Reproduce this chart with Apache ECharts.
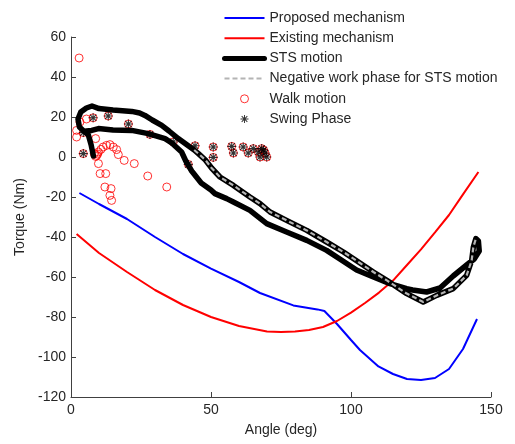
<!DOCTYPE html>
<html>
<head>
<meta charset="utf-8">
<script src="https://cdn.jsdelivr.net/npm/echarts@6/dist/echarts.min.js"></script>
<style>
html,body{margin:0;padding:0;background:#fff;}
#chart{width:515px;height:444px;}
</style>
</head>
<body>
<div id="chart"></div>
<script>
// ---- Data ----
const proposedAngle  = [3, 10, 20, 30, 40, 50, 60, 67.5, 79.4, 88, 90.5, 95, 100, 103.2, 109.8, 115, 120, 125, 130, 135, 140, 145];
const proposedTorque = [-18, -23.5, -31, -40, -48.5, -55.8, -62.5, -68, -74.2, -76.2, -77, -83.5, -91.5, -96.5, -104.7, -108.5, -111, -111.5, -110.5, -106, -96, -81];

const existingAngle  = [2, 10, 20, 30, 40, 50, 60, 70, 75, 80, 85, 90, 95, 100, 105, 110, 115, 120, 125, 130, 135, 140, 145.5];
const existingTorque = [-38.5, -48, -57.5, -66.5, -74, -80, -84.5, -87.2, -87.5, -87.3, -86.5, -85, -82, -77.8, -73, -67.8, -61.8, -54, -46.2, -37.7, -29, -18.7, -7.5];

const stsAngle  = [8, 7.2, 6.2, 4.5, 3, 2.5, 3.5, 5.5, 7.5, 10, 15, 21.7, 24.5, 26.4, 29, 32.4, 35, 38.3, 42, 44, 45.5, 48, 50.2, 53.2, 58, 63.9, 67.5, 71.1, 77, 84.2, 91.3, 97.3, 103.2, 108, 112.8, 119.9, 125.8, 130.6, 136.5, 141.3, 143.1, 143.7, 144.6, 145.5, 145.8, 144, 141.3, 136.5, 131.8, 127, 122, 119.9, 113.9, 108, 102, 96, 91.3, 84.2, 77, 69.9, 63.9, 58, 55.6, 51.4, 50, 46.5, 43.1, 41, 39.5, 36, 33.6, 27.6, 21.7, 15, 9.8, 7.4, 5.5];
const stsTorque = [0.5, 6, 11, 13, 15, 19, 22.5, 24.5, 25.5, 24.2, 23.5, 22.8, 22, 20.8, 18.5, 15.8, 13, 9.2, 5.5, 3.5, 1.7, -1.5, -5.5, -10, -14.2, -20, -23.3, -27.5, -31.7, -36.7, -42.5, -47.5, -53, -57.5, -61.7, -68.3, -72.5, -69.2, -65.8, -59.2, -51.7, -45, -40.8, -42, -47, -51, -54, -59.5, -65.5, -67.5, -66.5, -65.8, -63.3, -60, -56.5, -51, -46.7, -41.7, -37.5, -33.3, -26.7, -22.5, -20.8, -18.3, -16.5, -13, -7, -2, 2.5, 7, 9.2, 11.7, 13.3, 13.5, 14.2, 13.3, 13];

const negAngle  = [44, 45.5, 48, 50.2, 53.2, 58, 63.9, 67.5, 71.1, 77, 84.2, 91.3, 97.3, 103.2, 108, 112.8, 119.9, 125.8, 130.6, 136.5, 141.3, 143.1, 143.7, 144.6];
const negTorque = [3.5, 1.7, -1.5, -5.5, -10, -14.2, -20, -23.3, -27.5, -31.7, -36.7, -42.5, -47.5, -53, -57.5, -61.7, -68.3, -72.5, -69.2, -65.8, -59.2, -51.7, -45, -40.8];

const walkAngle  = [2.9, 2, 2, 3.2, 5.5, 4.4, 4.4, 7.9, 13.3, 20.5, 8.8, 8.3, 9.2, 9.8, 9.5, 8.8, 9.8, 10.7, 11.5, 12.7, 13.9, 15.1, 16.3, 16.9, 19, 22.6, 10.4, 12.4, 12.1, 14.3, 13.9, 14.5, 27.4, 34.2, 41.9, 28.2, 36.5, 44.3, 50.8, 50.8, 57.4, 58, 61.5, 63.3, 65.1, 66.9, 68.1, 67.5, 69.3, 69.9, 68.8];
const walkTorque = [49.5, 13.3, 10, 17.5, 19, 12.2, 1.7, 19.6, 20.5, 16.5, 9.2, 1.7, 0.8, 2.5, 1.5, 0.3, -3.3, 3.8, 5, 5.8, 6.2, 5, 3.7, 1.2, -1.7, -3.3, -8.3, -8.3, -15, -15.8, -19.2, -21.7, -9.5, -15, -3.7, 11.3, 7.5, 5.6, 5, -0.2, 5.3, 2, 5, 2, 4.2, 2.5, 4.2, 0, 2, 0, 3.5];

const swingAngle  = [4.4, 4.4, 7.9, 13.3, 20.5, 28.2, 36.5, 41.9, 44.3, 50.8, 50.8, 57.4, 58, 61.5, 63.3, 65.1, 66.9, 68.1, 67.5, 69.3, 69.9, 68.8];
const swingTorque = [12.2, 1.7, 19.6, 20.5, 16.5, 11.3, 7.5, -3.7, 5.6, 5, -0.2, 5.3, 2, 5, 2, 4.2, 2.5, 4.2, 0, 2, 0, 3.5];

const xTicks = {min: 0, max: 150, interval: 50};
const yTicks = {min: -120, max: 60, interval: 20};

const seriesNames = ['Proposed mechanism', 'Existing mechanism', 'STS motion', 'Negative work phase for STS motion', 'Walk motion', 'Swing Phase'];

// ---- helpers ----
const pairs = (xs, ys) => xs.map((x, i) => [x, ys[i]]);
const FONT = 'Arial, "Liberation Sans", sans-serif';
const TXT = '#262626';
const CLEAR = 'rgba(0,0,0,0)';
const asterisk = 'path://M-1.2 -10L1.2 -10L1.2 10L-1.2 10Z M-10 -1.2L10 -1.2L10 1.2L-10 1.2Z M-6.22 -7.92L7.92 6.22L6.22 7.92L-7.92 -6.22Z M6.22 -7.92L7.92 -6.22L-6.22 7.92L-7.92 6.22Z';

const lineItem = {color: CLEAR, borderColor: CLEAR, borderWidth: 0};

const chart = echarts.init(document.getElementById('chart'), null, {renderer: 'canvas'});
chart.setOption({
  animation: false,
  backgroundColor: '#ffffff',
  textStyle: {fontFamily: FONT},
  grid: {left: 71, right: 24, top: 37, bottom: 47, containLabel: false},
  legend: {
    orient: 'vertical', left: 217, top: 6,
    itemWidth: 40, itemHeight: 8, itemGap: 6.2,
    textStyle: {fontSize: 14, color: TXT, fontFamily: FONT},
    data: [
      {name: seriesNames[0]},
      {name: seriesNames[1]},
      {name: seriesNames[2], lineStyle: {width: 5}},
      {name: seriesNames[3], lineStyle: {width: 2}},
      {name: seriesNames[4], itemStyle: {color: CLEAR, borderColor: '#ff0000', borderWidth: 1}},
      {name: seriesNames[5]}
    ]
  },
  xAxis: {
    type: 'value', min: xTicks.min, max: xTicks.max, interval: xTicks.interval,
    name: 'Angle (deg)', nameLocation: 'middle', nameGap: 26,
    nameTextStyle: {fontSize: 14, color: TXT, fontFamily: FONT},
    axisLine: {show: true, onZero: false, lineStyle: {color: '#404040', width: 1}},
    axisTick: {show: true, inside: true, length: 5, lineStyle: {color: '#404040'}},
    axisLabel: {fontSize: 14, color: TXT, margin: 6, fontFamily: FONT},
    splitLine: {show: false}
  },
  yAxis: {
    type: 'value', min: yTicks.min, max: yTicks.max, interval: yTicks.interval,
    name: 'Torque (Nm)', nameLocation: 'middle', nameGap: 40,
    nameTextStyle: {fontSize: 14, color: TXT, fontFamily: FONT},
    axisLine: {show: true, onZero: false, lineStyle: {color: '#404040', width: 1}},
    axisTick: {show: true, inside: true, length: 5, lineStyle: {color: '#404040'}},
    axisLabel: {fontSize: 14, color: TXT, margin: 5, fontFamily: FONT},
    splitLine: {show: false}
  },
  series: [
    {name: seriesNames[0], type: 'line', data: pairs(proposedAngle, proposedTorque), symbol: 'none',
     lineStyle: {color: '#0000ff', width: 2}, itemStyle: lineItem},
    {name: seriesNames[1], type: 'line', data: pairs(existingAngle, existingTorque), symbol: 'none',
     lineStyle: {color: '#ff0000', width: 2}, itemStyle: lineItem},
    {name: seriesNames[2], type: 'line', data: pairs(stsAngle, stsTorque), symbol: 'none',
     lineStyle: {color: '#000000', width: 5.5, join: 'round', cap: 'round'}, itemStyle: lineItem},
    {name: seriesNames[3], type: 'line', data: pairs(negAngle, negTorque), symbol: 'none',
     lineStyle: {color: '#b4b4b4', width: 2.2, type: [5, 3]}, itemStyle: lineItem},
    {name: seriesNames[4], type: 'scatter', data: pairs(walkAngle, walkTorque), symbol: 'circle', symbolSize: 8,
     itemStyle: {color: CLEAR, borderColor: '#ff0000', borderWidth: 1}},
    {name: seriesNames[5], type: 'scatter', data: pairs(swingAngle, swingTorque), symbol: asterisk, symbolSize: 9,
     itemStyle: {color: '#000000'}}
  ]
});
</script>
</body>
</html>
